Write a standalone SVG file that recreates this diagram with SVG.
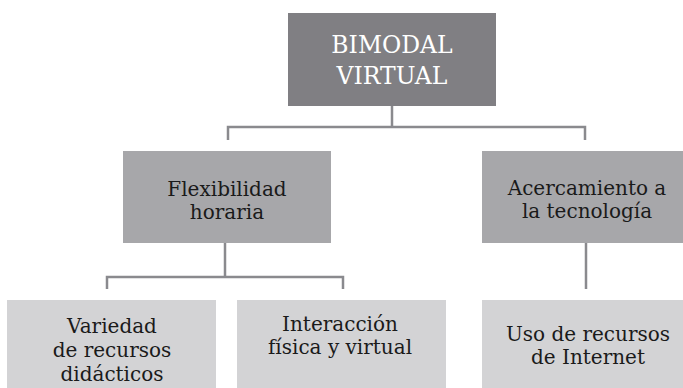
<svg xmlns="http://www.w3.org/2000/svg" width="683" height="388" viewBox="0 0 683 388">
<style>
.l1{fill:#807f83}
.l2{fill:#a7a7aa}
.l3{fill:#d3d3d5}
text{font-family:'DejaVu Serif',serif;text-anchor:middle}
.t{fill:#1a1a1a;font-size:20px}
.tw{fill:#ffffff;font-size:23.5px}
.c{fill:none;stroke:#8a8a8e;stroke-width:2.5}
</style>
<rect width="683" height="388" fill="#ffffff"/>
<g id="connectors">
<path class="c" d="M392 106V127M228 140V127H585V140"/>
<path class="c" d="M225 243V277M107 289V277H343V289"/>
<path class="c" d="M586 243V289"/>
</g>
<g id="bimodal">
<rect class="l1" x="288" y="13" width="208" height="93"/>
<text class="tw" x="392" y="53">BIMODAL</text>
<text class="tw" x="392" y="84">VIRTUAL</text>
</g>
<g id="flexibilidad">
<rect class="l2" x="123" y="151" width="208" height="92"/>
<text class="t" x="227" y="196">Flexibilidad</text>
<text class="t" x="227" y="219">horaria</text>
</g>
<g id="acercamiento">
<rect class="l2" x="482" y="151" width="201" height="92"/>
<text class="t" x="587" y="195">Acercamiento a</text>
<text class="t" x="587" y="218">la tecnología</text>
</g>
<g id="variedad">
<rect class="l3" x="7" y="300" width="209" height="88"/>
<text class="t" x="112" y="333">Variedad</text>
<text class="t" x="112" y="357">de recursos</text>
<text class="t" x="112" y="381">didácticos</text>
</g>
<g id="interaccion">
<rect class="l3" x="237" y="300" width="209" height="88"/>
<text class="t" x="340" y="331">Interacción</text>
<text class="t" x="340" y="354">física y virtual</text>
</g>
<g id="uso">
<rect class="l3" x="482" y="300" width="201" height="88"/>
<text class="t" x="588" y="341">Uso de recursos</text>
<text class="t" x="588" y="364">de Internet</text>
</g>
</svg>
